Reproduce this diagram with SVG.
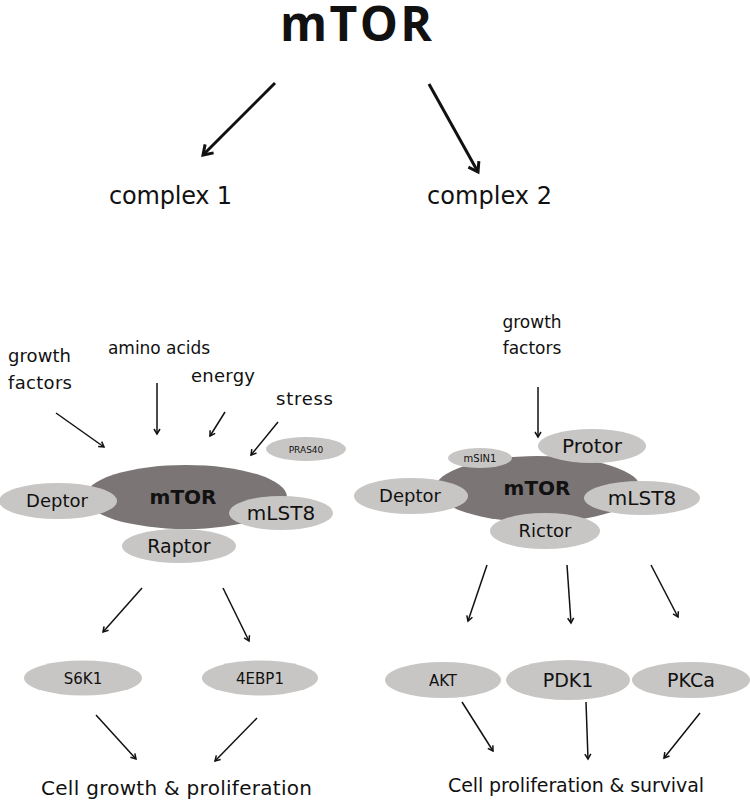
<svg xmlns="http://www.w3.org/2000/svg" width="750" height="801" viewBox="0 0 750 801">
<defs>
<style>
.t{font-family:"DejaVu Sans","Liberation Sans",sans-serif;fill:#111;}
.lt{fill:#c8c6c4;}
.dk{fill:#7b7575;}
.b{font-weight:bold;}
.c{stroke:#111;stroke-width:1.5;fill:none;marker-end:url(#ah);}
.cb{stroke:#111;stroke-width:3;fill:none;marker-end:url(#ahb);}
</style>
<marker id="ah" markerWidth="10" markerHeight="10" refX="6" refY="4" orient="auto" markerUnits="userSpaceOnUse">
<path d="M1,1 L6,4 L1,7" fill="none" stroke="#111" stroke-width="1.5"/>
</marker>
<marker id="ahb" markerWidth="20" markerHeight="20" refX="11" refY="8" orient="auto" markerUnits="userSpaceOnUse">
<path d="M2,2 L11,8 L2,14" fill="none" stroke="#111" stroke-width="3"/>
</marker>
</defs>
<rect width="750" height="801" fill="#fff"/>
<g id="connectors">
<line class="cb" x1="275" y1="83" x2="203" y2="155"/>
<line class="cb" x1="429" y1="84" x2="478" y2="172"/>
<line class="c" x1="56" y1="413" x2="104" y2="447"/>
<line class="c" x1="157" y1="383" x2="157" y2="434"/>
<line class="c" x1="225" y1="412" x2="210" y2="436"/>
<line class="c" x1="278" y1="422" x2="251" y2="455"/>
<line class="c" x1="538" y1="387" x2="538" y2="437"/>
<line class="c" x1="142" y1="588" x2="103" y2="632"/>
<line class="c" x1="223" y1="588" x2="249" y2="641"/>
<line class="c" x1="96" y1="715" x2="136" y2="759"/>
<line class="c" x1="257" y1="718" x2="215" y2="761"/>
<line class="c" x1="487" y1="565" x2="468" y2="621"/>
<line class="c" x1="567" y1="565" x2="571" y2="623"/>
<line class="c" x1="651" y1="565" x2="678" y2="617"/>
<line class="c" x1="462" y1="702" x2="493" y2="751"/>
<line class="c" x1="586" y1="702" x2="588" y2="759"/>
<line class="c" x1="700" y1="713" x2="664" y2="758"/>
</g>
<g id="title"><text class="b" x="356" y="41" font-size="48" text-anchor="middle" font-family="'Open Sans','Liberation Sans',sans-serif" fill="#111" textLength="152">mTOR</text></g>
<g id="complex1"><text class="t" x="109" y="204" font-size="24" textLength="123">complex 1</text></g>
<g id="complex2"><text class="t" x="427" y="204" font-size="24" textLength="125">complex 2</text></g>
<g id="growth1"><text class="t" x="8" y="362" font-size="18" textLength="63">growth</text><text class="t" x="8" y="389" font-size="18" textLength="64">factors</text></g>
<g id="amino"><text class="t" x="108" y="354" font-size="17" textLength="102">amino acids</text></g>
<g id="energy"><text class="t" x="191" y="382" font-size="18" textLength="64">energy</text></g>
<g id="stress"><text class="t" x="276" y="405" font-size="18" textLength="57">stress</text></g>
<g id="pras40"><ellipse class="lt" cx="306" cy="449" rx="40" ry="12"/><text class="t" x="306" y="452.5" font-size="9" text-anchor="middle">PRAS40</text></g>
<g id="mtor1"><ellipse class="dk" cx="186" cy="497" rx="101" ry="32"/><text class="t b" x="183" y="504" font-size="20" text-anchor="middle">mTOR</text></g>
<g id="deptor1"><ellipse class="lt" cx="58" cy="501" rx="59" ry="18"/><text class="t" x="57" y="507" font-size="18" text-anchor="middle">Deptor</text></g>
<g id="mlst8a"><ellipse class="lt" cx="281" cy="513" rx="52" ry="17"/><text class="t" x="281" y="520" font-size="20" text-anchor="middle">mLST8</text></g>
<g id="raptor"><ellipse class="lt" cx="179" cy="546" rx="57" ry="17"/><text class="t" x="179" y="553" font-size="19" text-anchor="middle">Raptor</text></g>
<g id="growth2"><text class="t" x="532" y="328" font-size="17" text-anchor="middle">growth</text><text class="t" x="532" y="354" font-size="17" text-anchor="middle">factors</text></g>
<g id="mtor2"><ellipse class="dk" cx="538" cy="489" rx="103" ry="33"/><text class="t b" x="537" y="495" font-size="20" text-anchor="middle">mTOR</text></g>
<g id="protor"><ellipse class="lt" cx="592" cy="446" rx="54" ry="17"/><text class="t" x="592" y="453" font-size="20" text-anchor="middle">Protor</text></g>
<g id="msin1"><ellipse class="lt" cx="480" cy="458" rx="32" ry="10"/><text class="t" x="480" y="461.5" font-size="10" text-anchor="middle">mSIN1</text></g>
<g id="deptor2"><ellipse class="lt" cx="411" cy="496" rx="57" ry="18"/><text class="t" x="410" y="502" font-size="18" text-anchor="middle">Deptor</text></g>
<g id="mlst8b"><ellipse class="lt" cx="642" cy="498" rx="58" ry="17"/><text class="t" x="642" y="505" font-size="20" text-anchor="middle">mLST8</text></g>
<g id="rictor"><ellipse class="lt" cx="545" cy="531" rx="55" ry="18"/><text class="t" x="545" y="537" font-size="18" text-anchor="middle">Rictor</text></g>
<g id="s6k1"><ellipse class="lt" cx="83" cy="678" rx="59" ry="17.5"/><text class="t" x="83" y="684" font-size="15" text-anchor="middle">S6K1</text></g>
<g id="4ebp1"><ellipse class="lt" cx="260" cy="678" rx="58" ry="17.5"/><text class="t" x="260" y="684" font-size="15" text-anchor="middle">4EBP1</text></g>
<g id="akt"><ellipse class="lt" cx="443" cy="680" rx="58" ry="18"/><text class="t" x="443" y="686" font-size="15" text-anchor="middle">AKT</text></g>
<g id="pdk1"><ellipse class="lt" cx="568" cy="680" rx="62" ry="20"/><text class="t" x="568" y="687" font-size="19" text-anchor="middle">PDK1</text></g>
<g id="pkca"><ellipse class="lt" cx="691" cy="680" rx="59" ry="18"/><text class="t" x="691" y="687" font-size="19" text-anchor="middle">PKCa</text></g>
<g id="out1"><text class="t" x="41" y="795" font-size="20" textLength="271">Cell growth &amp; proliferation</text></g>
<g id="out2"><text class="t" x="448" y="792" font-size="19" textLength="256">Cell proliferation &amp; survival</text></g>
</svg>
